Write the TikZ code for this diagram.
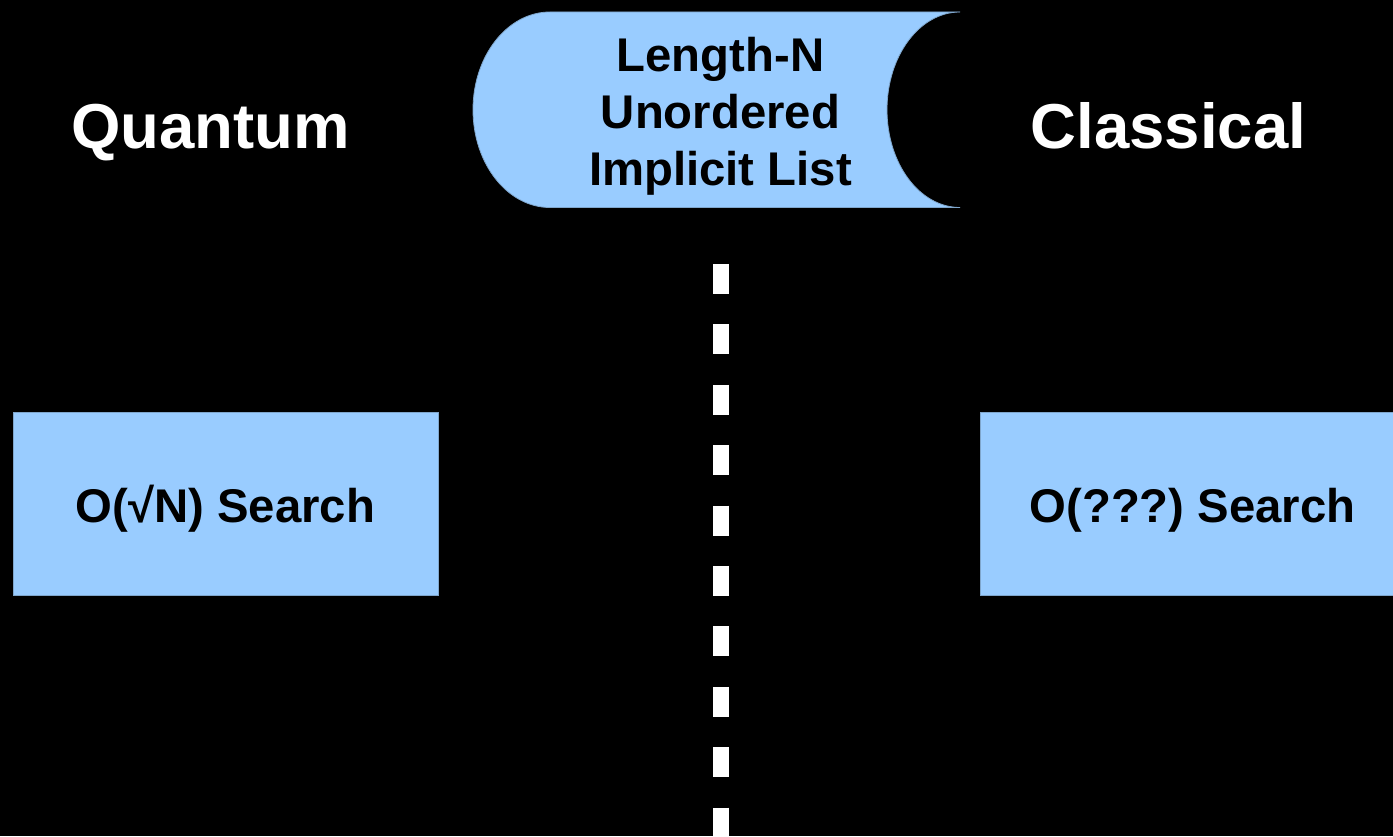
\documentclass[tikz,border=0pt]{standalone}
\usepackage{fontspec}
\setmainfont{Liberation Sans}
\frenchspacing
\definecolor{boxblue}{HTML}{99CCFF}
\definecolor{boxedge}{HTML}{7FA6CC}
\begin{document}
\begin{tikzpicture}[x=1pt,y=1pt,
  boxstyle/.style={fill=boxblue,draw=boxedge,line width=0.8pt},
  boxtext/.style={font=\fontsize{47.3}{57}\selectfont\bfseries\frenchspacing,text=black,inner sep=0pt},
  titletext/.style={font=\fontsize{63.5}{70}\selectfont\bfseries,text=white,inner sep=0pt,anchor=base},
  divider/.style={white,line width=16pt,dash pattern=on 30pt off 30.4pt}]
\useasboundingbox (0,0) rectangle (1393,836);
\fill[black] (0,0) rectangle (1393,836);
\clip (0,0) rectangle (1393,836);
% stored-data shape
\path[boxstyle] (550,824) -- (960,824)
  arc[start angle=90,end angle=270,x radius=73,y radius=97.75]
  -- (550,628.5)
  arc[start angle=270,end angle=90,x radius=77,y radius=97.75] -- cycle;
\node[boxtext,align=center] (list) at (720.5,720) {Length-N\\Unordered\\Implicit List};
% titles
\node[titletext] (quantum) at (210.5,687) {Quantum};
\node[titletext] (classical) at (1168.5,687) {Classical};
% boxes
\node[boxstyle,minimum width=425pt,minimum height=183pt,inner sep=0pt] (qbox) at (225.5,332.5) {};
\node[boxtext,anchor=base] (qtext) at (225.5,313) {O(√N) Search};
\node[boxstyle,minimum width=425pt,minimum height=183pt,inner sep=0pt] (cbox) at (1192.5,332.5) {};
\node[boxtext,anchor=base] (ctext) at (1192.5,313) {O(???) Search};
% divider
\coordinate (divtop) at (721,572);
\coordinate (divbot) at (721,-20);
\draw[divider] (divtop) -- (divbot);
\end{tikzpicture}
\end{document}
